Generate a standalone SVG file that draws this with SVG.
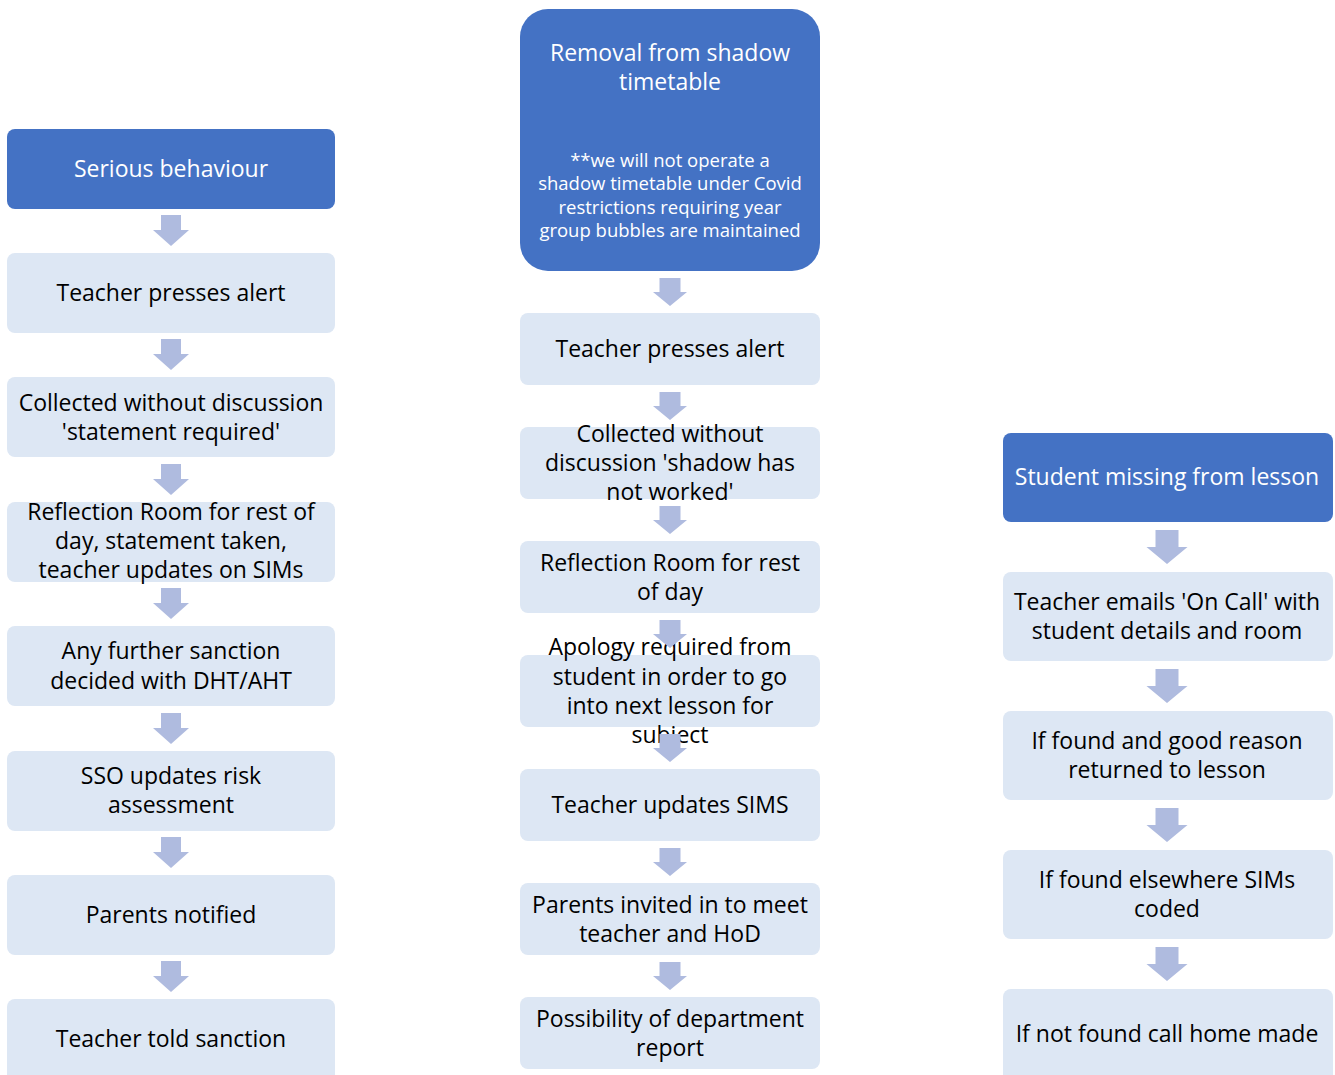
<svg xmlns="http://www.w3.org/2000/svg" xmlns:xlink="http://www.w3.org/1999/xlink" width="1335" height="1075" viewBox="0 0 1335 1075">
<style>
.dark{fill:#4472C4;}
.light{fill:#DDE7F4;}
.arr{fill:#AFBBDF;}
text{font-family:"Open Sans","Noto Sans","Liberation Sans",sans-serif;font-size:23px;text-anchor:middle;fill:#000;}
text.w{fill:#fff;}
text.s{font-size:18.5px;}
</style>
<defs>
<path id="a1" class="arr" d="M-10,0 H10 V15 H18 L0,31 L-18,15 H-10 Z"/>
<path id="a2" class="arr" d="M-10.5,0 H10.5 V14 H17 L0,28 L-17,14 H-10.5 Z"/>
<path id="a3" class="arr" d="M-11.5,0 H11.5 V17 H20.5 L0,34 L-20.5,17 H-11.5 Z"/>
</defs>
<rect width="1335" height="1075" fill="#fff"/>
<!-- Column 1 -->
<g id="c1n1"><rect class="dark" x="7" y="129" width="328" height="80" rx="8"/><text class="w" x="171" y="177">Serious behaviour</text></g>
<g id="c1n2"><rect class="light" x="7" y="253" width="328" height="80" rx="8"/><text x="171" y="301">Teacher presses alert</text></g>
<g id="c1n3"><rect class="light" x="7" y="377" width="328" height="80" rx="8"/><text x="171" y="411">Collected without discussion</text><text x="171" y="440">'statement required'</text></g>
<g id="c1n4"><rect class="light" x="7" y="502" width="328" height="80" rx="8"/><text x="171" y="520">Reflection Room for rest of</text><text x="171" y="549">day, statement taken,</text><text x="171" y="578">teacher updates on SIMs</text></g>
<g id="c1n5"><rect class="light" x="7" y="626" width="328" height="80" rx="8"/><text x="171" y="659">Any further sanction</text><text x="171" y="689">decided with DHT/AHT</text></g>
<g id="c1n6"><rect class="light" x="7" y="751" width="328" height="80" rx="8"/><text x="171" y="784">SSO updates risk</text><text x="171" y="813">assessment</text></g>
<g id="c1n7"><rect class="light" x="7" y="875" width="328" height="80" rx="8"/><text x="171" y="923">Parents notified</text></g>
<g id="c1n8"><rect class="light" x="7" y="999" width="328" height="90" rx="8"/><text x="171" y="1047">Teacher told sanction</text></g>
<!-- Column 2 -->
<g id="c2n1"><rect class="dark" x="520" y="9" width="300" height="262" rx="28"/><text class="w" x="670" y="61">Removal from shadow</text><text class="w" x="670" y="90">timetable</text><text class="w s" x="670" y="166.5">**we will not operate a</text><text class="w s" x="670" y="189.5">shadow timetable under Covid</text><text class="w s" x="670" y="213.5">restrictions requiring year</text><text class="w s" x="670" y="236.5">group bubbles are maintained</text></g>
<g id="c2n2"><rect class="light" x="520" y="313" width="300" height="72" rx="8"/><text x="670" y="357">Teacher presses alert</text></g>
<g id="c2n3"><rect class="light" x="520" y="427" width="300" height="72" rx="8"/><text x="670" y="442">Collected without</text><text x="670" y="471">discussion 'shadow has</text><text x="670" y="500">not worked'</text></g>
<g id="c2n4"><rect class="light" x="520" y="541" width="300" height="72" rx="8"/><text x="670" y="571">Reflection Room for rest</text><text x="670" y="600">of day</text></g>
<g id="c2n5"><rect class="light" x="520" y="655" width="300" height="72" rx="8"/><text x="670" y="655">Apology required from</text><text x="670" y="685">student in order to go</text><text x="670" y="714">into next lesson for</text><text x="670" y="743">subject</text></g>
<g id="c2n6"><rect class="light" x="520" y="769" width="300" height="72" rx="8"/><text x="670" y="813">Teacher updates SIMS</text></g>
<g id="c2n7"><rect class="light" x="520" y="883" width="300" height="72" rx="8"/><text x="670" y="913">Parents invited in to meet</text><text x="670" y="942">teacher and HoD</text></g>
<g id="c2n8"><rect class="light" x="520" y="997" width="300" height="72" rx="8"/><text x="670" y="1027">Possibility of department</text><text x="670" y="1056">report</text></g>
<!-- Column 3 -->
<g id="c3n1"><rect class="dark" x="1003" y="433" width="330" height="89" rx="8"/><text class="w" x="1167" y="485">Student missing from lesson</text></g>
<g id="c3n2"><rect class="light" x="1003" y="572" width="330" height="89" rx="8"/><text x="1167" y="610">Teacher emails 'On Call' with</text><text x="1167" y="639">student details and room</text></g>
<g id="c3n3"><rect class="light" x="1003" y="711" width="330" height="89" rx="8"/><text x="1167" y="749">If found and good reason</text><text x="1167" y="778">returned to lesson</text></g>
<g id="c3n4"><rect class="light" x="1003" y="850" width="330" height="89" rx="8"/><text x="1167" y="888">If found elsewhere SIMs</text><text x="1167" y="917">coded</text></g>
<g id="c3n5"><rect class="light" x="1003" y="989" width="330" height="95" rx="8"/><text x="1167" y="1042">If not found call home made</text></g>
<!-- Connectors -->
<g id="connectors">
<use xlink:href="#a1" x="171" y="215"/>
<use xlink:href="#a1" x="171" y="339"/>
<use xlink:href="#a1" x="171" y="464"/>
<use xlink:href="#a1" x="171" y="588"/>
<use xlink:href="#a1" x="171" y="713"/>
<use xlink:href="#a1" x="171" y="837"/>
<use xlink:href="#a1" x="171" y="961"/>
<use xlink:href="#a2" x="670" y="278"/>
<use xlink:href="#a2" x="670" y="392"/>
<use xlink:href="#a2" x="670" y="506"/>
<use xlink:href="#a2" x="670" y="620"/>
<use xlink:href="#a2" x="670" y="734"/>
<use xlink:href="#a2" x="670" y="848"/>
<use xlink:href="#a2" x="670" y="962"/>
<use xlink:href="#a3" x="1167" y="530"/>
<use xlink:href="#a3" x="1167" y="669"/>
<use xlink:href="#a3" x="1167" y="808"/>
<use xlink:href="#a3" x="1167" y="947"/>
</g>
</svg>
